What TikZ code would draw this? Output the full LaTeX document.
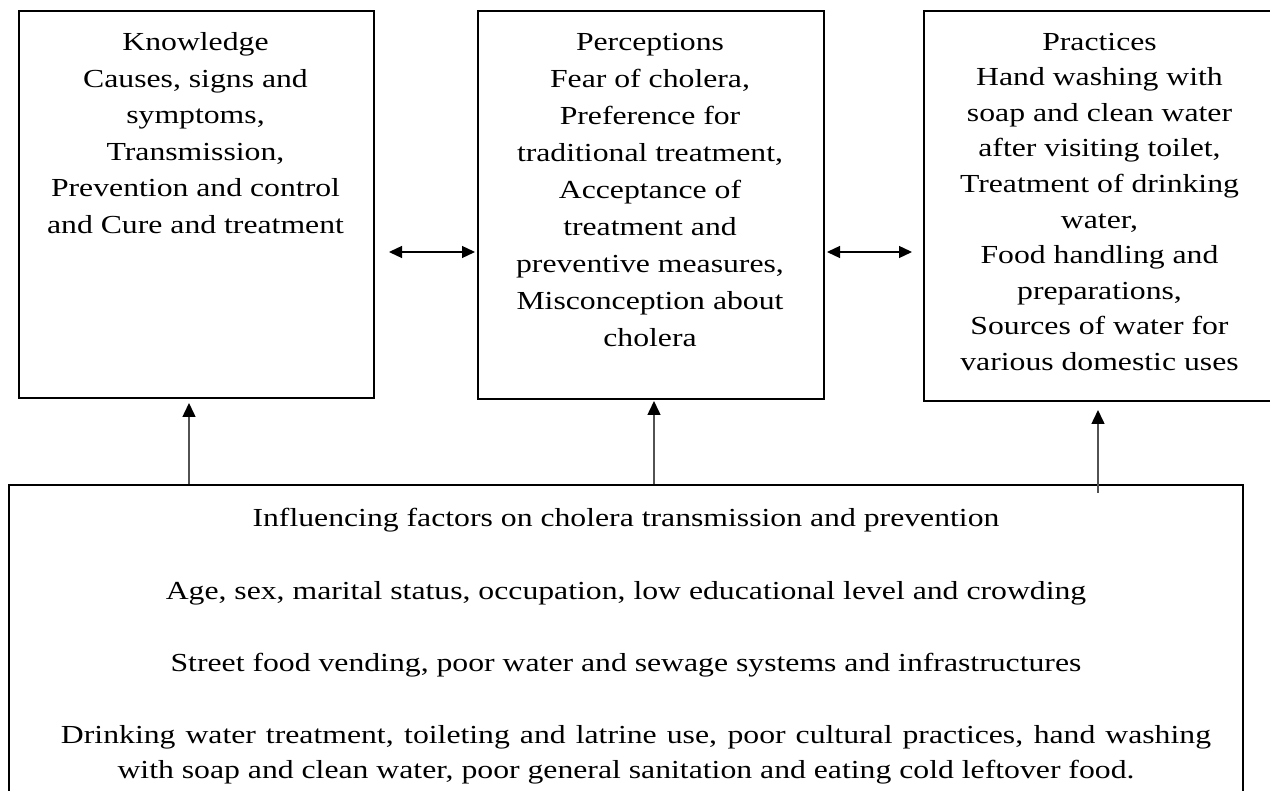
\documentclass[tikz,border=0pt]{standalone}
\usepackage{fontspec}
\setmainfont{Liberation Serif}[FakeStretch=1.22]
\usetikzlibrary{arrows.meta,calc}
\tikzset{
  box/.style={draw=black, line width=2pt, rectangle, inner sep=0pt, anchor=north west},
  btext/.style={anchor=base, align=center, inner sep=0pt, font=\fontsize{26}{36.5}\selectfont},
  uparrow/.style={draw=black!68, line width=1.5pt, -{Triangle[length=14pt,width=13pt,color=black]}},
  lrarrow/.style={draw=black, line width=1.3pt, {Triangle[length=13pt,width=12pt]}-{Triangle[length=13pt,width=12pt]}}
}
\begin{document}
\begin{tikzpicture}[x=1pt,y=-1pt]
\useasboundingbox (0,0) rectangle (1270,791);
\fill[white] (0,0) rectangle (1270,791);
% boxes
\node[box, minimum width=355pt, minimum height=387pt] (k) at (18,10) {};
\node[box, minimum width=346pt, minimum height=388pt] (p) at (477,10) {};
\node[box, minimum width=353pt, minimum height=390pt] (r) at (923,10) {};
\node[box, minimum width=1234pt, minimum height=320pt] (f) at (8,484) {};
% texts (anchor = baseline of the last line)
\node[btext] (kt) at (195.5,233.2) {Knowledge\\Causes, signs and\\symptoms,\\Transmission,\\Prevention and control\\and Cure and treatment};
\node[btext, font=\fontsize{26}{37}\selectfont] (pt) at (650,346.7) {Perceptions\\Fear of cholera,\\Preference for\\traditional treatment,\\Acceptance of\\treatment and\\preventive measures,\\Misconception about\\cholera};
\node[btext, font=\fontsize{26}{35.6}\selectfont] (rt) at (1099.5,370.6) {Practices\\Hand washing with\\soap and clean water\\after visiting toilet,\\Treatment of drinking\\water,\\Food handling and\\preparations,\\Sources of water for\\various domestic uses};
\node[btext] (f1) at (626,527) {Influencing factors on cholera transmission and prevention};
\node[btext] (f2) at (626,599) {Age, sex, marital status, occupation, low educational level and crowding};
\node[btext] (f3) at (626,671) {Street food vending, poor water and sewage systems and infrastructures};
\node[btext, font=\fontsize{26}{35}\selectfont] (f4) at (626,778) {\hbox to 1170pt{\hskip 20pt Drinking water treatment, toileting and latrine use, poor cultural practices, hand washing}\\with soap and clean water, poor general sanitation and eating cold leftover food.};
% connectors
\coordinate (h) at (0,252);
\coordinate (a1) at (189,0);
\coordinate (a2) at (654,0);
\coordinate (a3) at (1098,0);
\draw[lrarrow] ($(k.east |- h)+(14,0)$) -- ($(p.west |- h)+(-2,0)$);
\draw[lrarrow] ($(p.east |- h)+(2,0)$) -- ($(r.west |- h)+(-11,0)$);
\draw[uparrow] (a1 |- f.north) -- ($(a1 |- k.south)+(0,4)$);
\draw[uparrow] (a2 |- f.north) -- ($(a2 |- p.south)+(0,1)$);
\draw[uparrow] ($(a3 |- f.north)+(0,9)$) -- ($(a3 |- r.south)+(0,8)$);
\end{tikzpicture}
\end{document}
